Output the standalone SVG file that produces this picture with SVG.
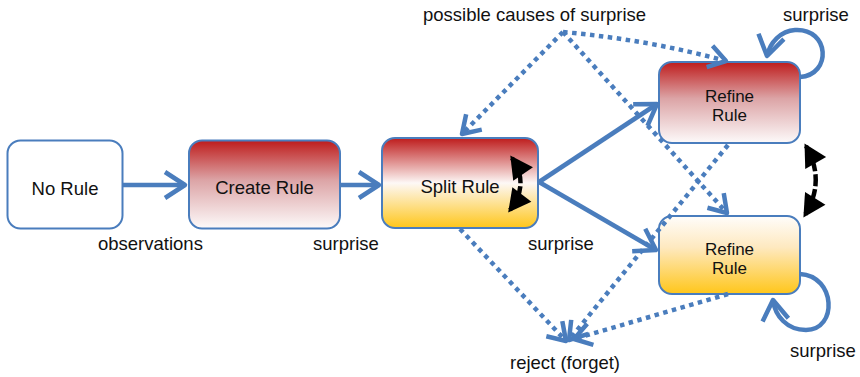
<svg xmlns="http://www.w3.org/2000/svg" width="860" height="377" viewBox="0 0 860 377">
<defs>
<linearGradient id="gRed" x1="0" y1="0" x2="0" y2="1">
<stop offset="0" stop-color="#be1c1c"/>
<stop offset="0.45" stop-color="#dca4a6"/>
<stop offset="1" stop-color="#fdfafa"/>
</linearGradient>
<linearGradient id="gSplit" x1="0" y1="0" x2="0" y2="1">
<stop offset="0" stop-color="#be1c1c"/>
<stop offset="0.5" stop-color="#fdf8f6"/>
<stop offset="1" stop-color="#ffc61a"/>
</linearGradient>
<linearGradient id="gYel" x1="0" y1="0" x2="0" y2="1">
<stop offset="0" stop-color="#fffdfb"/>
<stop offset="0.4" stop-color="#fee9c0"/>
<stop offset="1" stop-color="#ffc61a"/>
</linearGradient>
<marker id="chev" markerUnits="userSpaceOnUse" markerWidth="40" markerHeight="40" refX="0" refY="0" viewBox="-24 -20 30 40" orient="auto" overflow="visible">
<path d="M -20 -13 L 0 0 L -20 13" fill="none" stroke="#4a7dbd" stroke-width="4.5" stroke-linejoin="round" stroke-linecap="butt"/>
</marker>
<marker id="chevS" markerUnits="userSpaceOnUse" markerWidth="40" markerHeight="40" refX="0" refY="0" viewBox="-24 -20 30 40" orient="auto" overflow="visible">
<path d="M -17 -11 L 0 0 L -17 11" fill="none" stroke="#4a7dbd" stroke-width="4.5" stroke-linejoin="round" stroke-linecap="butt"/>
</marker>
<marker id="tri" markerUnits="userSpaceOnUse" markerWidth="30" markerHeight="30" refX="0" refY="0" viewBox="-16 -10 20 20" orient="auto" overflow="visible">
<path d="M -13 -8 L 2 0 L -13 8 Z" fill="#000"/>
</marker>
<marker id="triS" markerUnits="userSpaceOnUse" markerWidth="30" markerHeight="30" refX="0" refY="0" viewBox="-16 -10 20 20" orient="auto-start-reverse" overflow="visible">
<path d="M -13 -8 L 2 0 L -13 8 Z" fill="#000"/>
</marker>
</defs>
<style>
.node rect{stroke:#4a7dbd;stroke-width:2}
text{font-family:"Liberation Sans",Arial,sans-serif;font-size:18.5px;fill:#111}
.nt{text-anchor:middle}
.two{font-size:17px}
.solid{fill:none;stroke:#4a7dbd;stroke-width:4.5}
.dot{fill:none;stroke:#4a7dbd;stroke-width:4.5;stroke-dasharray:4.5 4.5}
.blk{fill:none;stroke:#000;stroke-width:4.5;stroke-dasharray:12 3}
</style>

<g id="no-rule" class="node">
<rect x="7.5" y="140.5" width="115" height="88" rx="13" fill="#fff"/>
<text class="nt" x="65" y="194.5">No Rule</text>
</g>
<g id="create-rule" class="node">
<rect x="189" y="140.5" width="151" height="88" rx="13" fill="url(#gRed)"/>
<text class="nt" x="264.5" y="194">Create Rule</text>
</g>
<g id="split-rule" class="node">
<rect x="382" y="138" width="156" height="90" rx="13" fill="url(#gSplit)"/>
<text class="nt" x="460" y="193">Split Rule</text>
</g>
<g id="refine-rule-top" class="node">
<rect x="659" y="62" width="141" height="81" rx="13" fill="url(#gRed)"/>
<text class="nt two" x="729.5" y="102">Refine</text>
<text class="nt two" x="729.5" y="121">Rule</text>
</g>
<g id="refine-rule-bottom" class="node">
<rect x="659" y="216" width="141" height="78" rx="13" fill="url(#gYel)"/>
<text class="nt two" x="729.5" y="255">Refine</text>
<text class="nt two" x="729.5" y="274">Rule</text>
</g>

<g id="connectors">
<path class="solid" d="M 123 185 L 185 185" marker-end="url(#chev)"/>
<path class="solid" d="M 340 185 L 379 185" marker-end="url(#chev)"/>
<path class="solid" d="M 539 182 L 657 104" marker-end="url(#chev)"/>
<path class="solid" d="M 539 182 L 656 250" marker-end="url(#chev)"/>
<path class="solid" d="M 800 77 C 832 75 830 28 795 30 C 781 31 770 42 767 56" marker-end="url(#chev)"/>
<path class="solid" d="M 800 274 C 836 276 838 330 806 330 C 787 330 775 316 773 300" marker-end="url(#chev)"/>

<path class="dot" d="M 563 32 L 462 134" marker-end="url(#chevS)"/>
<path class="dot" d="M 563 32 Q 650 40 726 61" marker-end="url(#chevS)"/>
<path class="dot" d="M 563 32 L 727 213" marker-end="url(#chevS)"/>
<path class="dot" d="M 460 229 L 566 341" marker-end="url(#chevS)"/>
<path class="dot" d="M 728 145 L 569 340" marker-end="url(#chevS)"/>
<path class="dot" d="M 728 294 L 574 339" marker-end="url(#chevS)"/>

<path class="blk" d="M 512 158 Q 530 184 510 210" marker-start="url(#triS)" marker-end="url(#tri)"/>
<path class="blk" d="M 806 146 Q 826 181 805 215" marker-start="url(#triS)" marker-end="url(#tri)"/>
</g>

<g id="labels">
<text x="98" y="250">observations</text>
<text x="313" y="250">surprise</text>
<text x="528" y="250">surprise</text>
<text x="423" y="21">possible causes of surprise</text>
<text x="783" y="21">surprise</text>
<text x="790" y="357">surprise</text>
<text x="510" y="369">reject (forget)</text>
</g>
</svg>
